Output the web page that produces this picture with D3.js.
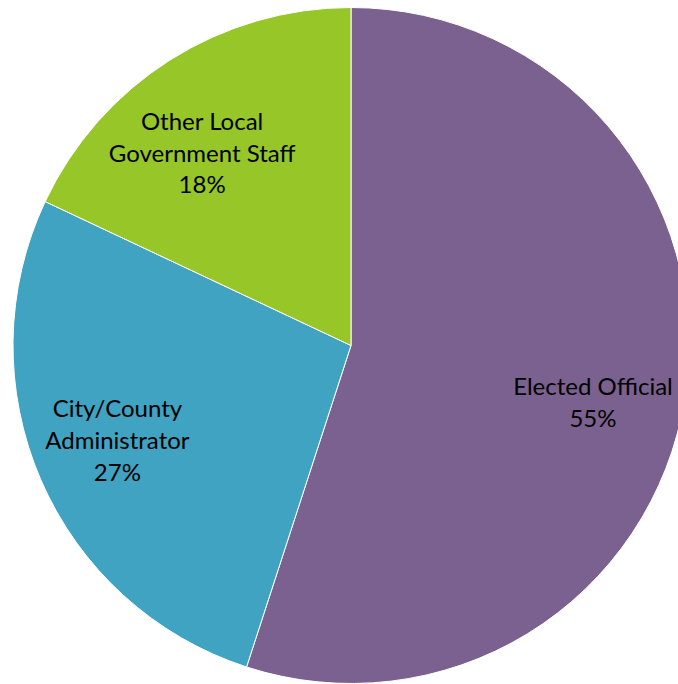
<!DOCTYPE html>
<html>
<head>
<meta charset="utf-8">
<script src="https://cdn.jsdelivr.net/npm/d3@7"></script>
<style>
  html, body { margin: 0; padding: 0; background: #fff; }
  svg { display: block; }
</style>
</head>
<body>
<svg id="chart" width="678" height="684"></svg>
<script>
// Share of respondents by role
const categories = ["Elected Official", "City/County Administrator", "Other Local Government Staff"];
const values = [55, 27, 18];
const labelLines = [
  ["Elected Official", "55%"],
  ["City/County", "Administrator", "27%"],
  ["Other Local", "Government Staff", "18%"]
];
const colors = ["#7B618F", "#3FA3C1", "#96C627"];

const svg = d3.select("#chart");
const cx = 351, cy = 345.5, radius = 338;

const data = categories.map((c, i) => ({ name: c, value: values[i], lines: labelLines[i], color: colors[i] }));

const pie = d3.pie().value(d => d.value).sort(null);
const arc = d3.arc().innerRadius(0).outerRadius(radius);
const labelArc = d3.arc().innerRadius(248).outerRadius(248);
// small per-slice label nudges so the text sits in the open part of each slice
const nudge = [[-3, 18], [-6, -3], [-16, 17]];

const g = svg.append("g").attr("transform", `translate(${cx},${cy})`);
const arcs = pie(data);

g.selectAll("path.slice")
  .data(arcs)
  .join("path")
  .attr("class", "slice")
  .attr("d", arc)
  .attr("fill", d => d.data.color)
  .attr("stroke", "#ffffff")
  .attr("stroke-width", 1);

const lineH = 32;
const labels = g.selectAll("text.label")
  .data(arcs)
  .join("text")
  .attr("class", "label")
  .attr("transform", (d, i) => {
    const [x, y] = labelArc.centroid(d);
    return `translate(${x + nudge[i][0]},${y + nudge[i][1]})`;
  })
  .attr("text-anchor", "middle")
  .attr("font-family", "Lato, 'Open Sans', sans-serif")
  .attr("font-size", 24)
  .attr("fill", "#000");

labels.each(function(d) {
  const n = d.data.lines.length;
  d3.select(this).selectAll("tspan")
    .data(d.data.lines)
    .join("tspan")
    .attr("x", 0)
    .attr("y", (t, i) => (i - (n - 1) / 2) * lineH)
    .attr("dy", "0.35em")
    .text(t => t);
});
</script>
</body>
</html>
